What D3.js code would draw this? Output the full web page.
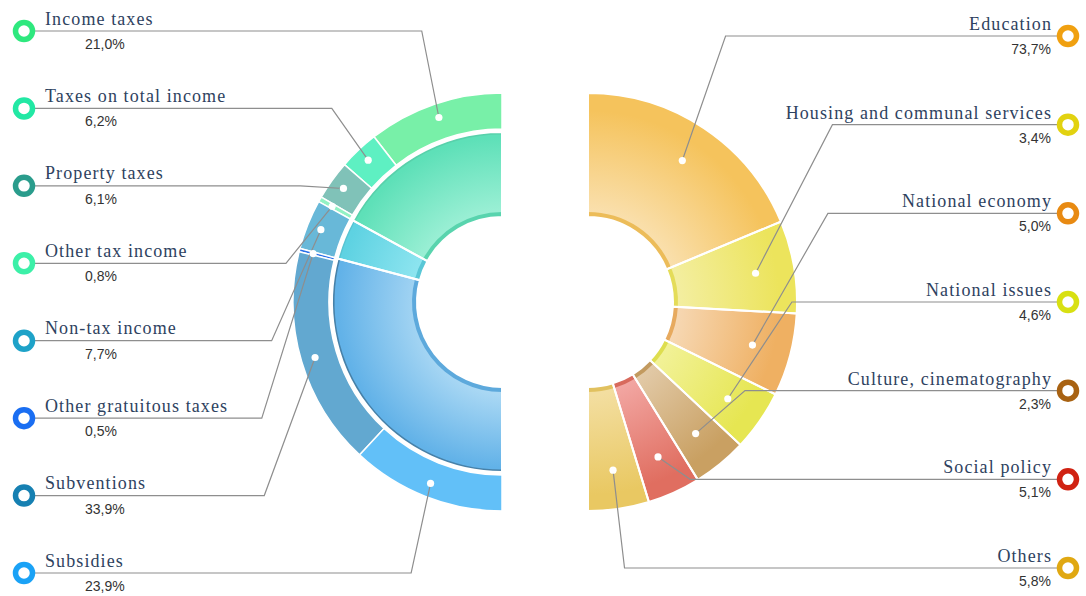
<!DOCTYPE html>
<html>
<head>
<meta charset="utf-8">
<script src="https://cdn.jsdelivr.net/npm/d3@7"></script>
<style>
html,body{margin:0;padding:0;background:#fff;}
svg{display:block;}
</style>
</head>
<body>
<svg id="chart" width="1086" height="596"></svg>
<script>
// ---------------- DATA ----------------
const incomeCategories = ["Income taxes", "Taxes on total income", "Property taxes", "Other tax income",
  "Non-tax income", "Other gratuitous taxes", "Subventions", "Subsidies"];
const incomeValues = [21.0, 6.2, 6.1, 0.8, 7.7, 0.5, 33.9, 23.9];
const incomeGroups = ["Tax income", "Tax income", "Tax income", "Tax income",
  "Non-tax income", "Gratuitous receipts", "Gratuitous receipts", "Gratuitous receipts"];
const groupNames = ["Tax income", "Non-tax income", "Gratuitous receipts"];

const expenseCategories = ["Education", "Housing and communal services", "National economy",
  "National issues", "Culture, cinematography", "Social policy", "Others"];
const expenseValues = [73.7, 3.4, 5.0, 4.6, 2.3, 5.1, 5.8];          // printed percentages
const expenseArcShares = [37.4, 14.3, 12.8, 9.4, 8.4, 8.2, 9.4];      // slice sizes as drawn in the picture

// ---------------- STYLE ----------------
const incomeFill   = ["#78f0a8", "#5ef0c2", "#80c2b8", "#92f2c4", "#68b8d8", "#2a70e8", "#62a8d0", "#62c0f8"];
const incomeMarker = ["#2ee87e", "#22e8a4", "#2a9c8c", "#3cf0a8", "#1ea2c8", "#1a6ef2", "#1680b2", "#1aa2f6"];
const groupFill    = ["#5ee0b8", "#5ed2e2", "#62b2e8"];
const groupLight   = ["#a6f2da", "#96e8f2", "#aad8f4"];

const expenseFill   = ["#f5c35c", "#ece45c", "#efb062", "#e6e652", "#c9a062", "#e06e60", "#e9c862"];
const expenseLight  = ["#fae2b4", "#f4efa6", "#f7dab8", "#f2f29a", "#e2caa8", "#f2a6a2", "#f3dea0"];
const expenseMarker = ["#f0a010", "#e2d210", "#e88a12", "#d8e012", "#a86212", "#d02212", "#e0a812"];

const W = 1086, H = 596, CY = 302;
const L = {cx: 502, r0: 85, r1: 170, o0: 173, o1: 209, dotR: 195, cornerR: 248};
const R = {cx: 588, r0: 85, r1: 209, dotR: 170, cornerR: 248};

const fmt = v => d3.format(".1f")(v).replace(".", ",") + "%";

const svg = d3.select("#chart");
const defs = svg.append("defs");

// ---------------- LEFT CHART ----------------
const gL = svg.append("g").attr("transform", `translate(${L.cx},${CY})`);

const incomeData = incomeCategories.map((c, i) => ({name: c, value: incomeValues[i], i}));
const groupData = groupNames.map((g, i) => ({
  name: g, i,
  value: d3.sum(incomeValues.filter((v, k) => incomeGroups[k] === g))
}));

const pieL = d3.pie().sort(null).startAngle(0).endAngle(-Math.PI).value(d => d.value);
const arcsInner = pieL(groupData);
const arcsOuter = pieL(incomeData);

groupData.forEach((d, i) => {
  const gr = defs.append("radialGradient").attr("id", "gL" + i)
    .attr("gradientUnits", "userSpaceOnUse").attr("cx", 0).attr("cy", 0).attr("r", L.r1)
    .attr("fx", 15).attr("fy", 15);
  gr.append("stop").attr("offset", 0.5).attr("stop-color", groupLight[i]);
  gr.append("stop").attr("offset", 0.97).attr("stop-color", groupFill[i]);
});

const arcIn = d3.arc().innerRadius(L.r0).outerRadius(L.r1);
gL.selectAll("path.inner").data(arcsInner).join("path")
  .attr("class", "inner").attr("d", arcIn)
  .attr("fill", d => `url(#gL${d.data.i})`);
// inner edge band
gL.selectAll("path.iband").data(arcsInner).join("path")
  .attr("d", d3.arc().innerRadius(L.r0).outerRadius(L.r0 + 5))
  .attr("fill", d => d3.color(groupFill[d.data.i]).darker(0.15));
// outer edge band
gL.selectAll("path.oband").data(arcsInner).join("path")
  .attr("d", d3.arc().innerRadius(L.r1 - 2.5).outerRadius(L.r1))
  .attr("fill", d => d3.color(groupFill[d.data.i]).darker(d.data.i === 2 ? 0.9 : 0.2));
// separators
gL.selectAll("path.isep").data(arcsInner).join("path")
  .attr("d", arcIn).attr("fill", "none").attr("stroke", "#fff").attr("stroke-width", 2);

const arcOut = d3.arc().innerRadius(L.o0).outerRadius(L.o1);
gL.selectAll("path.outer").data(arcsOuter).join("path")
  .attr("class", "outer").attr("d", arcOut)
  .attr("fill", d => incomeFill[d.data.i])
  .attr("stroke", "#fff").attr("stroke-width", 1.5);

// ---------------- RIGHT CHART ----------------
const gR = svg.append("g").attr("transform", `translate(${R.cx},${CY})`);
const expenseData = expenseCategories.map((c, i) => ({name: c, value: expenseArcShares[i], pct: expenseValues[i], i}));
const pieR = d3.pie().sort(null).startAngle(0).endAngle(Math.PI).value(d => d.value);
const arcsR = pieR(expenseData);

expenseData.forEach((d, i) => {
  const gr = defs.append("radialGradient").attr("id", "gR" + i)
    .attr("gradientUnits", "userSpaceOnUse").attr("cx", 0).attr("cy", 0).attr("r", R.r1)
    .attr("fx", -10).attr("fy", 10);
  gr.append("stop").attr("offset", 0.42).attr("stop-color", expenseLight[i]);
  gr.append("stop").attr("offset", 0.92).attr("stop-color", expenseFill[i]);
});

const arcR = d3.arc().innerRadius(R.r0).outerRadius(R.r1);
gR.selectAll("path.seg").data(arcsR).join("path")
  .attr("d", arcR).attr("fill", d => `url(#gR${d.data.i})`);
gR.selectAll("path.band").data(arcsR).join("path")
  .attr("d", d3.arc().innerRadius(R.r0).outerRadius(R.r0 + 5))
  .attr("fill", d => d3.color(expenseFill[d.data.i]).darker(0.1));
gR.selectAll("path.sep").data(arcsR).join("path")
  .attr("d", arcR).attr("fill", "none").attr("stroke", "#fff").attr("stroke-width", 2);

// ---------------- LABELS & LEADERS ----------------
const yLeft = d3.scaleLinear().domain([0, incomeCategories.length - 1]).range([31, 573]);
const yRight = d3.scaleLinear().domain([0, expenseCategories.length - 1]).range([36, 568]);
const mid = a => (a.startAngle + a.endAngle) / 2;
const polar = (cx, r, ang) => [cx + r * Math.sin(ang), CY - r * Math.cos(ang)];

const leaders = svg.append("g").attr("fill", "none").attr("stroke", "#8e8e8e").attr("stroke-width", 1.2);
const dots = svg.append("g");
const labels = svg.append("g");
const markerXL = 24, markerXR = 1068;
const nameFont = "'Liberation Serif', serif";

arcsOuter.forEach((a, i) => {
  const ang = mid(a);
  const dot = polar(L.cx, L.dotR, ang);
  const y = yLeft(i);
  const cornerX = L.cx + L.cornerR * Math.sin(ang);
  leaders.append("path").attr("d", d3.line()([[markerXL, y], [cornerX, y], dot]));
  dots.append("circle").attr("cx", dot[0]).attr("cy", dot[1]).attr("r", 3.6).attr("fill", "#fff");
  labels.append("circle").attr("cx", markerXL).attr("cy", y).attr("r", 8.5)
    .attr("fill", "#fff").attr("stroke", incomeMarker[i]).attr("stroke-width", 5.5);
  labels.append("text").attr("x", 45).attr("y", y - 6.5).text(a.data.name)
    .attr("font-family", nameFont).attr("font-size", 18)
    .attr("letter-spacing", "1.1px").attr("fill", "#2e4260");
  labels.append("text").attr("x", 85).attr("y", y + 18).text(fmt(a.data.value))
    .attr("font-family", "'Liberation Sans', Arial, sans-serif").attr("font-size", 14)
    .attr("fill", "#333");
});

arcsR.forEach((a, i) => {
  const ang = mid(a);
  const dot = polar(R.cx, R.dotR, ang);
  const y = yRight(i);
  const cornerX = R.cx + R.cornerR * Math.sin(ang);
  leaders.append("path").attr("d", d3.line()([[markerXR, y], [cornerX, y], dot]));
  dots.append("circle").attr("cx", dot[0]).attr("cy", dot[1]).attr("r", 3.6).attr("fill", "#fff");
  labels.append("circle").attr("cx", markerXR).attr("cy", y).attr("r", 8.5)
    .attr("fill", "#fff").attr("stroke", expenseMarker[i]).attr("stroke-width", 5.5);
  labels.append("text").attr("x", 1052).attr("y", y - 6).attr("text-anchor", "end").text(a.data.name)
    .attr("font-family", nameFont).attr("font-size", 18)
    .attr("letter-spacing", "1.1px").attr("fill", "#2e4260");
  labels.append("text").attr("x", 1051).attr("y", y + 18).attr("text-anchor", "end").text(fmt(a.data.pct))
    .attr("font-family", "'Liberation Sans', Arial, sans-serif").attr("font-size", 14)
    .attr("fill", "#333");
});
</script>
</body>
</html>
